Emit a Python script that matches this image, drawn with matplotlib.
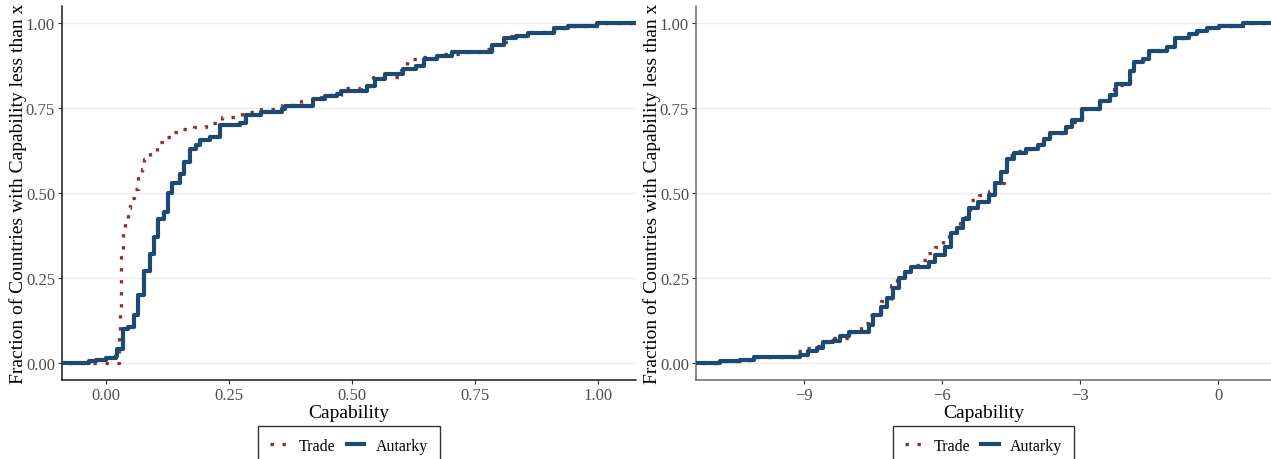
"""ECDF of capability under trade vs autarky (two panels)."""
import matplotlib
matplotlib.use("Agg")
import matplotlib.pyplot as plt

plt.rcParams["font.family"] = ["Liberation Serif", "DejaVu Serif"]

RED = "#922B2F"
BLUE = "#1C4A73"

# left panel: capability in levels (step knots)
left_autarky_x = [-0.10, -0.035, -0.02, 0.00, 0.02, 0.022, 0.034, 0.046, 0.058, 0.066,
                  0.078, 0.090, 0.098, 0.107, 0.119, 0.127, 0.135, 0.151, 0.159, 0.171,
                  0.183, 0.191, 0.211, 0.231, 0.272, 0.284, 0.316, 0.357, 0.365, 0.421,
                  0.445, 0.470, 0.478, 0.530, 0.546, 0.567, 0.603, 0.631, 0.647, 0.672,
                  0.704, 0.785, 0.809, 0.833, 0.857, 0.910, 0.938, 0.998, 1.10]
left_autarky_y = [0.000, 0.005, 0.010, 0.015, 0.020, 0.040, 0.100, 0.107, 0.140, 0.200,
                  0.270, 0.320, 0.370, 0.425, 0.445, 0.500, 0.530, 0.557, 0.590, 0.630,
                  0.640, 0.655, 0.665, 0.700, 0.705, 0.730, 0.738, 0.748, 0.757, 0.777,
                  0.785, 0.790, 0.800, 0.815, 0.836, 0.850, 0.865, 0.875, 0.895, 0.904,
                  0.914, 0.934, 0.955, 0.961, 0.971, 0.984, 0.992, 1.000, 1.000]

left_trade_x = [-0.10, 0.026, 0.028, 0.030, 0.031, 0.034, 0.038, 0.046, 0.050, 0.058,
                0.066, 0.074, 0.078, 0.090, 0.103, 0.115, 0.135, 0.155, 0.179, 0.203,
                0.236, 0.276, 0.316, 0.357, 0.397, 0.437, 0.478, 0.518, 0.542, 0.599,
                0.611, 0.639, 0.680, 0.720, 0.760, 0.793, 0.817, 0.865, 0.910, 0.938,
                0.998, 1.10]
left_trade_y = [0.000, 0.083, 0.152, 0.240, 0.313, 0.386, 0.425, 0.455, 0.484, 0.513,
                0.543, 0.572, 0.601, 0.621, 0.650, 0.665, 0.679, 0.689, 0.694, 0.706,
                0.723, 0.738, 0.748, 0.760, 0.772, 0.787, 0.808, 0.816, 0.840, 0.863,
                0.894, 0.899, 0.909, 0.914, 0.924, 0.943, 0.963, 0.973, 0.984, 0.992,
                1.000, 1.000]

# right panel: capability in logs
right_autarky_x = [-12.0, -10.83, -10.39, -10.09, -9.08, -8.91, -8.73, -8.60, -8.38, -8.21,
                   -8.03, -7.59, -7.51, -7.33, -7.20, -7.07, -6.94, -6.81, -6.68, -6.28,
                   -6.15, -5.93, -5.80, -5.67, -5.54, -5.41, -5.23, -4.97, -4.84, -4.71,
                   -4.58, -4.44, -4.18, -3.92, -3.79, -3.66, -3.31, -3.18, -2.96, -2.56,
                   -2.34, -2.21, -1.91, -1.82, -1.64, -1.51, -1.12, -0.94, -0.64, -0.46,
                   -0.24, 0.02, 0.54, 1.5]
right_autarky_y = [0.000, 0.005, 0.010, 0.017, 0.024, 0.036, 0.044, 0.062, 0.066, 0.078,
                   0.090, 0.112, 0.142, 0.166, 0.190, 0.220, 0.250, 0.269, 0.283, 0.298,
                   0.318, 0.342, 0.381, 0.396, 0.425, 0.455, 0.474, 0.494, 0.528, 0.562,
                   0.601, 0.619, 0.630, 0.640, 0.660, 0.677, 0.694, 0.714, 0.748, 0.772,
                   0.787, 0.821, 0.860, 0.885, 0.894, 0.917, 0.929, 0.955, 0.968, 0.977,
                   0.984, 0.992, 1.000, 1.000]

right_trade_x = [-12.0, -10.83, -10.39, -10.09, -9.21, -8.98, -8.73, -8.60, -8.34, -8.03,
                 -7.77, -7.62, -7.33, -7.11, -6.98, -6.81, -6.63, -6.41, -6.33, -6.15,
                 -5.98, -5.84, -5.62, -5.49, -5.39, -5.19, -4.97, -4.84, -4.66, -4.58,
                 -4.40, -4.18, -3.92, -3.79, -3.66, -3.31, -3.22, -2.96, -2.56, -2.34,
                 -2.26, -1.91, -1.82, -1.64, -1.51, -1.12, -0.94, -0.64, -0.46, -0.24,
                 0.02, 0.54, 1.5]
right_trade_y = [0.000, 0.005, 0.010, 0.017, 0.034, 0.044, 0.050, 0.062, 0.073, 0.090,
                 0.117, 0.142, 0.181, 0.230, 0.254, 0.274, 0.288, 0.303, 0.323, 0.342,
                 0.367, 0.386, 0.430, 0.450, 0.479, 0.494, 0.505, 0.528, 0.582, 0.611,
                 0.623, 0.630, 0.640, 0.660, 0.677, 0.694, 0.709, 0.748, 0.772, 0.787,
                 0.818, 0.860, 0.885, 0.894, 0.917, 0.929, 0.955, 0.968, 0.977, 0.984,
                 0.992, 1.000, 1.000]

y_ticks = [0.0, 0.25, 0.5, 0.75, 1.0]
y_labels = ["0.00", "0.25", "0.50", "0.75", "1.00"]
left_xticks = [0.0, 0.25, 0.5, 0.75, 1.0]
left_xlabels = ["0.00", "0.25", "0.50", "0.75", "1.00"]
right_xticks = [-9, -6, -3, 0]
right_xlabels = ["\u22129", "\u22126", "\u22123", "0"]

fig = plt.figure(figsize=(12.71, 4.6), dpi=100)
ax_l = fig.add_axes([62 / 1271, 79 / 460, 574 / 1271, 374 / 460])
ax_r = fig.add_axes([696 / 1271, 79 / 460, 575 / 1271, 374 / 460])

panels = [
    (ax_l, left_trade_x, left_trade_y, left_autarky_x, left_autarky_y,
     (-0.089, 1.077), left_xticks, left_xlabels, "#1a1a1a"),
    (ax_r, right_trade_x, right_trade_y, right_autarky_x, right_autarky_y,
     (-11.35, 1.15), right_xticks, right_xlabels, "#6b6b6b"),
]

for ax, tx, ty, ax_x, ax_y, xlim, xt, xl, spine_col in panels:
    ax.step(tx, ty, where="post", color=RED, lw=2.4, linestyle=(0, (1, 2.6)),
            dash_capstyle="butt", label="Trade", zorder=3)
    ax.step(ax_x, ax_y, where="post", color=BLUE, lw=3.0, label="Autarky", zorder=4)

    ax.set_xlim(*xlim)
    ax.set_ylim(-0.05, 1.05)
    ax.set_yticks(y_ticks)
    ax.set_yticklabels(y_labels)
    ax.set_xticks(xt)
    ax.set_xticklabels(xl)
    ax.grid(axis="y", color="#EBEBEB", lw=1.0)
    ax.set_axisbelow(True)
    for side in ("top", "right"):
        ax.spines[side].set_visible(False)
    for side in ("left", "bottom"):
        ax.spines[side].set_color(spine_col)
        ax.spines[side].set_linewidth(1.1)
    ax.tick_params(length=3, width=0.8, color="#333333", labelcolor="#4D4D4D",
                   labelsize=12, pad=2)
    ax.set_xlabel("Capability", fontsize=14, labelpad=1)
    ax.set_ylabel("Fraction of Countries with Capability less than x", fontsize=14)
    ax.yaxis.set_label_coords(-0.061, 0.5)

    leg = ax.legend(loc="upper center", bbox_to_anchor=(0.5, -0.123), ncol=2,
                    fontsize=11.5, frameon=True, fancybox=False, handlelength=1.1,
                    handletextpad=0.7, columnspacing=0.7, borderpad=0.75,
                    borderaxespad=0)
    leg.get_frame().set_edgecolor("black")
    leg.get_frame().set_linewidth(1.0)

fig.savefig("out.png", dpi=100)
